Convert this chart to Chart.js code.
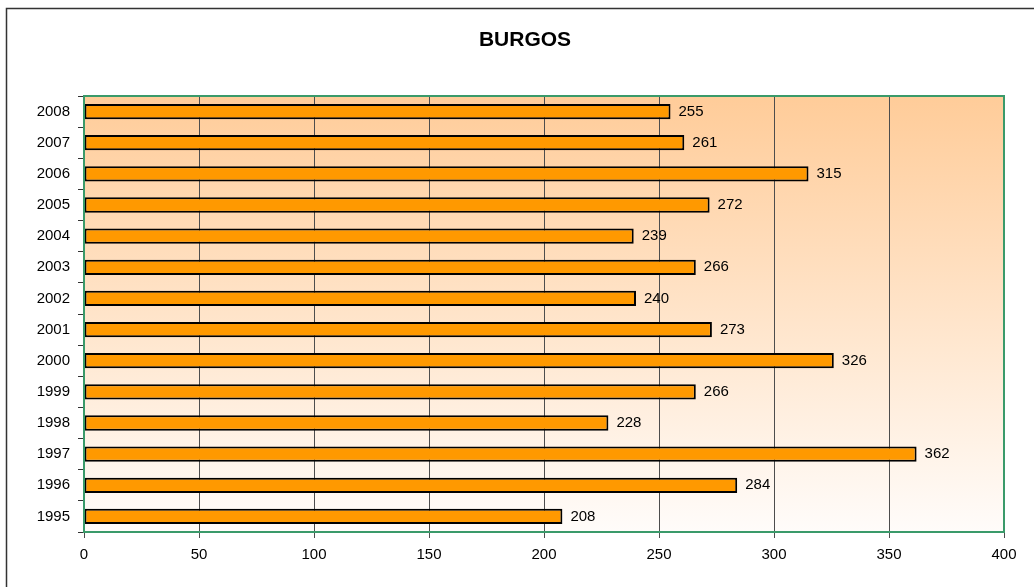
<!DOCTYPE html>
<html>
<head>
<meta charset="utf-8">
<title>BURGOS</title>
<script src="https://cdn.jsdelivr.net/npm/chart.js@4"></script>
<style>
  body { margin: 0; background: #fff; }
  #wrap { width: 1034px; height: 587px; }
</style>
</head>
<body>
<div id="wrap"><canvas id="myChart" width="1034" height="587"></canvas></div>
<script>
// Data
const chartTitle = "BURGOS";
const years = ["2008", "2007", "2006", "2005", "2004", "2003", "2002", "2001", "2000", "1999", "1998", "1997", "1996", "1995"];
const values = [255, 261, 315, 272, 239, 266, 240, 273, 326, 266, 228, 362, 284, 208];
const xTicks = [0, 50, 100, 150, 200, 250, 300, 350, 400];

const fontFamily = "'Liberation Sans', Arial, sans-serif";
const plotBorder = "#3a9a6a";

// gradient background behind the bars, frame and title
const backgroundPlugin = {
    id: "plotBackground",
    beforeDraw: (chart) => {
        const { ctx, chartArea } = chart;
        const grad = ctx.createLinearGradient(0, chartArea.top, 0, chartArea.bottom);
        grad.addColorStop(0, "#ffcc99");
        grad.addColorStop(1, "#fffcfa");
        ctx.save();
        ctx.fillStyle = grad;
        ctx.fillRect(chartArea.left, chartArea.top, chartArea.right - chartArea.left, chartArea.bottom - chartArea.top);
        ctx.restore();
    },
    afterDraw: (chart) => {
        const { ctx, chartArea } = chart;
        ctx.save();
        ctx.strokeStyle = plotBorder;
        ctx.lineWidth = 2;
        ctx.strokeRect(chartArea.left, chartArea.top, chartArea.right - chartArea.left, chartArea.bottom - chartArea.top);
        ctx.strokeStyle = "#333";
        ctx.lineWidth = 1.5;
        ctx.strokeRect(6.5, 8.5, 1100, 700);
        // title, centred on the outer frame
        ctx.font = "bold 21px " + fontFamily;
        ctx.fillStyle = "#000";
        ctx.textAlign = "center";
        ctx.textBaseline = "middle";
        ctx.fillText(chartTitle, 525, 40);
        ctx.restore();
    }
};

// value labels to the right of each bar
const valueLabels = {
    id: "valueLabels",
    afterDatasetsDraw: (chart) => {
        const { ctx } = chart;
        const meta = chart.getDatasetMeta(0);
        ctx.save();
        ctx.font = "15px " + fontFamily;
        ctx.fillStyle = "#000";
        ctx.textAlign = "left";
        ctx.textBaseline = "middle";
        meta.data.forEach((bar, i) => {
            ctx.fillText(values[i], bar.x + 8, bar.y);
        });
        ctx.restore();
    }
};

const ctx = document.getElementById("myChart").getContext("2d");
const myChart = new Chart(ctx, {
    type: "bar",
    data: {
        labels: years,
        datasets: [
            {
                data: values,
                backgroundColor: "#ff9900",
                borderColor: "#000",
                borderWidth: 2,
                borderSkipped: false,
                barPercentage: 0.49,
                categoryPercentage: 1,
            },
        ],
    },
    options: {
        indexAxis: "y",
        responsive: false,
        animation: false,
        layout: { padding: { left: 10, right: 30, top: 96, bottom: 0 } },
        plugins: {
            legend: { display: false },
            tooltip: { enabled: false },
            title: { display: false },
        },
        scales: {
            x: {
                min: 0,
                max: 400,
                afterBuildTicks: (scale) => {
                    scale.ticks = xTicks.map((v) => ({ value: v }));
                },
                afterFit: (scale) => { scale.height = 55; },
                grid: { color: "#4d4d4d", lineWidth: 1, tickLength: 6 },
                border: { color: plotBorder, width: 2 },
                ticks: { color: "#000", padding: 8, font: { family: fontFamily, size: 15 } },
            },
            y: {
                afterFit: (scale) => { scale.width = 74; },
                grid: { drawOnChartArea: false, color: "#333", tickLength: 6 },
                border: { color: plotBorder, width: 2 },
                ticks: { color: "#000", padding: 8, font: { family: fontFamily, size: 15 } },
            },
        },
    },
    plugins: [backgroundPlugin, valueLabels],
});
</script>
</body>
</html>
